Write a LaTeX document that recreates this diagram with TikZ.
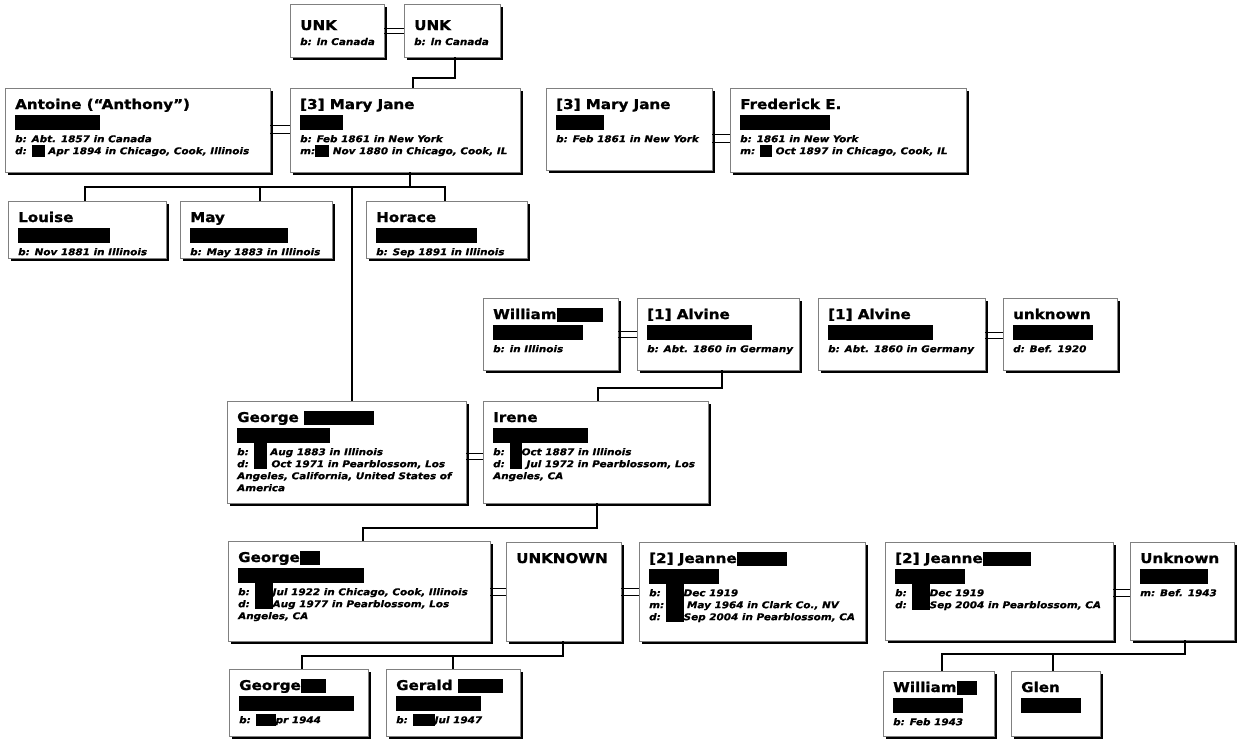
\documentclass[tikz,border=0pt]{standalone}
\usepackage{fontspec}
\setmainfont{DejaVu Sans}
\newfontfamily\nmfont[FakeStretch=1.12,FakeBold=1.2]{DejaVu Sans}
\newfontfamily\dtfont[FakeStretch=1.12,FakeBold=0.8]{DejaVu Sans}
\usetikzlibrary{shadows,fit}
\newcommand\rd[1]{\smash{\rule[-2.5pt]{#1pt}{12pt}}}
\newcommand\rdn[1]{\smash{\rule[-3pt]{#1pt}{14pt}}}
\newcommand\rdt[1]{\smash{\rule[-14pt]{#1pt}{26pt}}}
\newcommand\rdtt[1]{\smash{\rule[-26pt]{#1pt}{38pt}}}
\tikzset{
 pbox/.style={draw=black!50, line width=0.5pt, fill=white, inner sep=0pt,
   drop shadow={shadow xshift=2.5pt, shadow yshift=-2.5pt, fill=black, opacity=1}},
 nm/.style={font=\nmfont\bfseries\fontsize{13.5}{15}\selectfont, inner sep=0pt, anchor=base west},
 dt/.style={font=\dtfont\bfseries\itshape\fontsize{9.3}{12}\selectfont, inner sep=0pt, anchor=north west, align=left},
 conn/.style={line width=1.3pt},
 wed/.style={line width=1pt},
}
% name, x1, y1, x2, y2, name text, details, bar width
\newcommand\person[8]{%
  \node[pbox, fit={(#2,#3) (#4,#5)}] (#1) {};
  \node[nm] (#1-n) at (#2+10,#3+21) {#6};
  \node[dt] (#1-d) at (#2+10,#3+45) {\rule{0pt}{9pt}#7};
  \ifdim#8pt>0pt \fill (#2+10,#3+27) rectangle ++(#8,15);\fi
}
\begin{document}
\begin{tikzpicture}[x=1pt,y=-1pt]
\fill[white] (0,0) rectangle (1240,742);
\useasboundingbox (0,0) rectangle (1240,742);

% top couple
\node[pbox, fit={(290,4) (384,57)}] (unk1) {};
\node[nm] (unk1-n) at (300,30) {UNK};
\node[dt, anchor=base west] (unk1-d) at (300,45) {b: in Canada};
\node[pbox, fit={(404,4) (500,57)}] (unk2) {};
\node[nm] (unk2-n) at (414,30) {UNK};
\node[dt, anchor=base west] (unk2-d) at (414,45) {b: in Canada};

% generation 1
\person{ant}{5}{88}{270}{172}{Antoine (“Anthony”)}{b: Abt. 1857 in Canada\\ d: \rd{13} Apr 1894 in Chicago, Cook, Illinois}{85}
\person{mj1}{290}{88}{520}{172}{[3] Mary Jane}{b: Feb 1861 in New York\\ m:\rd{14} Nov 1880 in Chicago, Cook, IL}{43}
\person{mj2}{546}{88}{712}{170}{[3] Mary Jane}{b: Feb 1861 in New York}{48}
\person{fred}{730}{88}{966}{172}{Frederick E.}{b: 1861 in New York\\ m: \rd{12} Oct 1897 in Chicago, Cook, IL}{90}

% children of Mary Jane
\person{louise}{8}{201}{166}{258}{Louise}{b: Nov 1881 in Illinois}{92}
\person{may}{180}{201}{332}{258}{May}{b: May 1883 in Illinois}{98}
\person{horace}{366}{201}{527}{258}{Horace}{b: Sep 1891 in Illinois}{101}

% Alvine row
\person{will1}{483}{298}{618}{370}{William\rdn{46}}{b: in Illinois}{90}
\person{alv1}{637}{298}{799}{370}{[1] Alvine}{b: Abt. 1860 in Germany}{105}
\person{alv2}{818}{298}{985}{370}{[1] Alvine}{b: Abt. 1860 in Germany}{105}
\person{unk3}{1003}{298}{1117}{370}{unknown}{d: Bef. 1920}{80}

% George & Irene
\person{george}{227}{401}{466}{503}{George \rdn{70}}{b: \rdt{13} Aug 1883 in Illinois\\ d: \hspace{13pt} Oct 1971 in Pearblossom, Los\\ Angeles, California, United States of\\ America}{93}
\person{irene}{483}{401}{708}{503}{Irene}{b: \rdt{12}Oct 1887 in Illinois\\ d: \hspace{12pt} Jul 1972 in Pearblossom, Los\\ Angeles, CA}{95}

% generation George Jr
\person{gj}{228}{541}{490}{641}{George\rdn{20}}{b: \rdt{18}Jul 1922 in Chicago, Cook, Illinois\\ d: \hspace{18pt}Aug 1977 in Pearblossom, Los\\ Angeles, CA}{126}
\person{unkn}{506}{542}{621}{641}{UNKNOWN}{}{0}
\person{j1}{639}{542}{865}{641}{[2] Jeanne\rdn{50}}{b: \rdtt{18}Dec 1919\\ m: \hspace{18pt}May 1964 in Clark Co., NV\\ d: \hspace{18pt}Sep 2004 in Pearblossom, CA}{70}
\person{j2}{885}{542}{1113}{640}{[2] Jeanne\rdn{48}}{b: \rdt{18}Dec 1919\\ d: \hspace{18pt}Sep 2004 in Pearblossom, CA}{70}
\person{unk5}{1130}{542}{1234}{640}{Unknown}{m: Bef. 1943}{68}

% grandchildren
\person{g3}{229}{669}{368}{736}{George\rdn{25}}{b: \rd{20}pr 1944}{115}
\person{gerald}{386}{669}{520}{736}{Gerald \rdn{45}}{b: \rd{22}Jul 1947}{85}
\person{w2}{883}{671}{994}{736}{William\rdn{20}}{b: Feb 1943}{70}
\person{glen}{1011}{671}{1100}{736}{Glen}{}{60}

% marriage connectors
\draw[wed] (unk1.east |- 0,28) -- (unk2.west |- 0,28);
\draw[wed] (unk1.east |- 0,33) -- (unk2.west |- 0,33);
\draw[wed] (ant.east |- 0,125) -- (mj1.west |- 0,125);
\draw[wed] (ant.east |- 0,133) -- (mj1.west |- 0,133);
\draw[wed] (mj2.east |- 0,134) -- (fred.west |- 0,134);
\draw[wed] (mj2.east |- 0,142) -- (fred.west |- 0,142);
\draw[wed] (will1.east |- 0,331) -- (alv1.west |- 0,331);
\draw[wed] (will1.east |- 0,337) -- (alv1.west |- 0,337);
\draw[wed] (alv2.east |- 0,332) -- (unk3.west |- 0,332);
\draw[wed] (alv2.east |- 0,338) -- (unk3.west |- 0,338);
\draw[wed] (george.east |- 0,453) -- (irene.west |- 0,453);
\draw[wed] (george.east |- 0,459) -- (irene.west |- 0,459);
\draw[wed] (gj.east |- 0,588) -- (unkn.west |- 0,588);
\draw[wed] (gj.east |- 0,595) -- (unkn.west |- 0,595);
\draw[wed] (unkn.east |- 0,588) -- (j1.west |- 0,588);
\draw[wed] (unkn.east |- 0,595) -- (j1.west |- 0,595);
\draw[wed] (j2.east |- 0,589) -- (unk5.west |- 0,589);
\draw[wed] (j2.east |- 0,596) -- (unk5.west |- 0,596);

% descent connectors
\draw[conn] (455,0 |- unk2.south) |- (413,78) -- (413,0 |- mj1.north);
\draw[conn] (410,0 |- mj1.south) -- (410,187);
\draw[conn] (85,0 |- louise.north) |- (445,187) -- (445,0 |- horace.north);
\draw[conn] (260,187) -- (260,0 |- may.north);
\draw[conn] (352,187) -- (352,0 |- george.north);
\draw[conn] (722,0 |- alv1.south) |- (598,388) -- (598,0 |- irene.north);
\draw[conn] (597,0 |- irene.south) |- (363,528) -- (363,0 |- gj.north);
\draw[conn] (563,0 |- unkn.south) |- (302,656) -- (302,0 |- g3.north);
\draw[conn] (453,656) -- (453,0 |- gerald.north);
\draw[conn] (1185,0 |- unk5.south) |- (942,654) -- (942,0 |- w2.north);
\draw[conn] (1053,654) -- (1053,0 |- glen.north);
\end{tikzpicture}
\end{document}
